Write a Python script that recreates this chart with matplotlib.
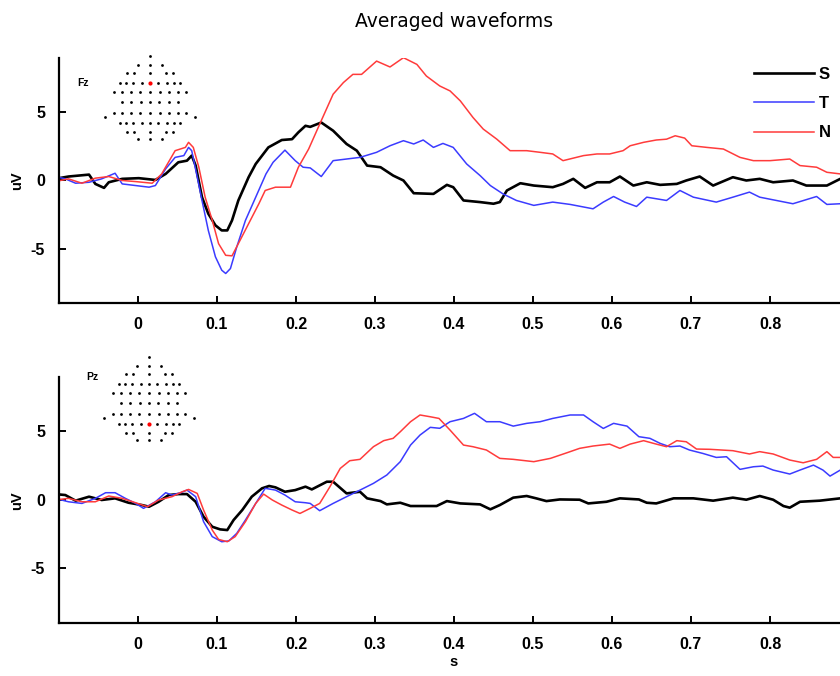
import matplotlib
matplotlib.use("Agg")
import matplotlib.pyplot as plt

plt.rcParams['font.family'] = ['Liberation Sans Narrow', 'Liberation Sans', 'DejaVu Sans']
plt.rcParams['axes.unicode_minus'] = False

# ---- data (time in s, amplitude in uV) ----
fz_s_t = [-0.105, -0.088, -0.062, -0.054, -0.043, -0.037, -0.02, 0.001, 0.022, 0.035, 0.051, 0.062,
          0.068, 0.073, 0.081, 0.089, 0.098, 0.106, 0.113, 0.119, 0.127, 0.14, 0.149, 0.165, 0.182,
          0.195, 0.203, 0.212, 0.218, 0.232, 0.247, 0.264, 0.277, 0.29, 0.307, 0.323, 0.336, 0.349,
          0.374, 0.391, 0.399, 0.412, 0.433, 0.45, 0.458, 0.467, 0.484, 0.501, 0.525, 0.538, 0.551,
          0.566, 0.581, 0.597, 0.61, 0.627, 0.644, 0.661, 0.682, 0.694, 0.711, 0.728, 0.753, 0.77,
          0.787, 0.804, 0.829, 0.846, 0.872, 0.889]
fz_s_v = [0.10, 0.27, 0.41, -0.27, -0.56, -0.15, 0.10, 0.15, 0.02, 0.46, 1.31, 1.43,
          1.80, 1.07, -1.24, -2.45, -3.30, -3.67, -3.67, -2.94, -1.48, 0.22, 1.19, 2.40, 2.94,
          3.00, 3.50, 3.98, 3.90, 4.22, 3.62, 2.65, 2.16, 1.07, 0.95, 0.34, -0.02, -0.95,
          -1.00, -0.34, -0.51, -1.48, -1.60, -1.72, -1.60, -0.75, -0.22, -0.39, -0.51, -0.27, 0.10,
          -0.56, -0.15, -0.15, 0.27, -0.39, -0.15, -0.34, -0.27, -0.02, 0.27, -0.39, 0.22, -0.02,
          0.10, -0.15, -0.02, -0.39, -0.39, 0.10]

fz_t_t = [-0.105, -0.092, -0.079, -0.062, -0.046, -0.029, -0.020, -0.003, 0.014, 0.022, 0.035, 0.047,
          0.058, 0.064, 0.068, 0.075, 0.081, 0.089, 0.098, 0.106, 0.111, 0.117, 0.125, 0.136, 0.149,
          0.162, 0.171, 0.186, 0.199, 0.209, 0.218, 0.232, 0.247, 0.264, 0.281, 0.302, 0.319, 0.336,
          0.349, 0.361, 0.374, 0.386, 0.399, 0.416, 0.433, 0.446, 0.462, 0.479, 0.501, 0.525, 0.547,
          0.576, 0.589, 0.602, 0.616, 0.631, 0.644, 0.669, 0.686, 0.703, 0.732, 0.753, 0.774, 0.787,
          0.808, 0.829, 0.859, 0.872, 0.889]
fz_t_v = [0.27, 0.10, -0.22, -0.15, 0.10, 0.51, -0.27, -0.39, -0.51, -0.39, 0.83, 1.67,
          1.80, 2.40, 2.16, 0.22, -1.48, -3.67, -5.60, -6.58, -6.82, -6.46, -4.88, -2.94, -1.24,
          0.46, 1.31, 2.20, 1.43, 0.95, 0.90, 0.27, 1.43, 1.55, 1.67, 2.04, 2.52, 2.89,
          2.65, 2.94, 2.40, 2.69, 2.40, 1.19, 0.34, -0.39, -1.00, -1.48, -1.84, -1.60, -1.77,
          -2.09, -1.60, -1.19, -1.60, -1.92, -1.24, -1.48, -0.75, -1.24, -1.60, -1.24, -0.87, -1.24,
          -1.48, -1.72, -1.19, -1.77, -1.72]

fz_n_t = [-0.105, -0.088, -0.071, -0.054, -0.037, -0.020, -0.003, 0.018, 0.030, 0.047, 0.060, 0.064,
          0.070, 0.077, 0.085, 0.094, 0.102, 0.111, 0.119, 0.127, 0.140, 0.153, 0.161, 0.174, 0.193,
          0.203, 0.216, 0.230, 0.247, 0.260, 0.272, 0.283, 0.302, 0.319, 0.336, 0.353, 0.365, 0.382,
          0.395, 0.408, 0.424, 0.437, 0.454, 0.471, 0.492, 0.509, 0.525, 0.538, 0.564, 0.581, 0.597,
          0.614, 0.623, 0.640, 0.656, 0.669, 0.680, 0.692, 0.701, 0.720, 0.741, 0.762, 0.779, 0.800,
          0.825, 0.838, 0.859, 0.872, 0.889]
fz_n_v = [-0.10, 0.10, -0.22, 0.15, 0.27, -0.02, -0.10, -0.22, 0.46, 2.16, 2.40, 2.77,
          2.40, 0.95, -1.24, -2.94, -4.64, -5.49, -5.53, -4.64, -3.18, -1.72, -0.75, -0.51, -0.51,
          0.95, 2.28, 4.10, 6.29, 7.14, 7.74, 7.74, 8.71, 8.28, 8.96, 8.47, 7.62, 6.89,
          6.53, 5.80, 4.59, 3.74, 3.01, 2.16, 2.16, 2.04, 1.92, 1.43, 1.80, 1.92, 1.92,
          2.16, 2.52, 2.77, 2.94, 3.00, 3.25, 3.08, 2.52, 2.40, 2.28, 1.67, 1.43, 1.43,
          1.55, 1.07, 0.95, 0.58, 0.46]

pz_s_t = [-0.105, -0.092, -0.079, -0.062, -0.046, -0.029, -0.012, 0.005, 0.014, 0.026, 0.039, 0.051,
          0.062, 0.073, 0.083, 0.094, 0.104, 0.113, 0.121, 0.132, 0.144, 0.157, 0.166, 0.174, 0.186,
          0.199, 0.212, 0.220, 0.239, 0.247, 0.264, 0.281, 0.290, 0.307, 0.315, 0.332, 0.345, 0.378,
          0.391, 0.408, 0.433, 0.446, 0.458, 0.475, 0.492, 0.504, 0.517, 0.534, 0.559, 0.570, 0.593,
          0.610, 0.634, 0.644, 0.656, 0.678, 0.703, 0.728, 0.753, 0.770, 0.787, 0.804, 0.817, 0.825,
          0.838, 0.863, 0.889]
pz_s_v = [0.41, 0.34, -0.07, 0.22, -0.02, 0.10, -0.22, -0.39, -0.51, -0.15, 0.34, 0.41,
          0.41, -0.15, -1.24, -1.97, -2.16, -2.21, -1.48, -0.75, 0.22, 0.83, 1.00, 0.90, 0.58,
          0.70, 0.95, 0.75, 1.31, 1.31, 0.46, 0.58, 0.10, -0.10, -0.34, -0.22, -0.46, -0.46,
          -0.10, -0.27, -0.34, -0.70, -0.39, 0.15, 0.27, 0.10, -0.10, 0.02, 0.00, -0.27, -0.15,
          0.10, 0.02, -0.22, -0.27, 0.10, 0.10, -0.07, 0.15, 0.00, 0.27, 0.00, -0.46, -0.58,
          -0.15, -0.07, 0.10]

pz_t_t = [-0.105, -0.088, -0.071, -0.054, -0.041, -0.029, -0.016, -0.003, 0.007, 0.022, 0.035, 0.043,
          0.054, 0.062, 0.073, 0.083, 0.094, 0.106, 0.115, 0.125, 0.136, 0.149, 0.161, 0.174, 0.186,
          0.199, 0.212, 0.218, 0.230, 0.247, 0.264, 0.281, 0.298, 0.315, 0.332, 0.345, 0.357, 0.370,
          0.382, 0.395, 0.412, 0.426, 0.441, 0.458, 0.475, 0.492, 0.509, 0.525, 0.547, 0.564, 0.576,
          0.589, 0.602, 0.619, 0.634, 0.648, 0.661, 0.673, 0.686, 0.698, 0.715, 0.732, 0.745, 0.762,
          0.779, 0.791, 0.804, 0.825, 0.838, 0.855, 0.867, 0.876, 0.889]
pz_t_v = [0.10, -0.15, -0.27, 0.10, 0.51, 0.51, 0.10, -0.27, -0.63, -0.15, 0.51, 0.34,
          0.51, 0.70, 0.22, -1.60, -2.69, -3.06, -3.00, -2.45, -1.48, -0.27, 0.83, 0.70, 0.34,
          -0.15, -0.22, -0.27, -0.80, -0.27, 0.22, 0.70, 1.19, 1.80, 2.77, 3.98, 4.71, 5.27,
          5.20, 5.68, 5.92, 6.29, 5.68, 5.68, 5.36, 5.56, 5.68, 5.92, 6.17, 6.17, 5.68,
          5.19, 5.56, 5.36, 4.59, 4.47, 4.10, 3.86, 3.91, 3.62, 3.37, 3.08, 3.13, 2.21,
          2.40, 2.45, 2.16, 1.87, 2.16, 2.52, 2.16, 1.72, 2.16]

pz_n_t = [-0.105, -0.088, -0.071, -0.054, -0.037, -0.020, -0.003, 0.012, 0.026, 0.043, 0.056, 0.064,
          0.075, 0.083, 0.094, 0.102, 0.113, 0.123, 0.136, 0.149, 0.159, 0.170, 0.182, 0.195, 0.205,
          0.218, 0.230, 0.243, 0.256, 0.268, 0.281, 0.298, 0.311, 0.323, 0.332, 0.345, 0.357, 0.370,
          0.381, 0.395, 0.412, 0.424, 0.441, 0.458, 0.475, 0.501, 0.522, 0.543, 0.559, 0.576, 0.597,
          0.610, 0.623, 0.640, 0.656, 0.669, 0.682, 0.694, 0.707, 0.724, 0.753, 0.774, 0.787, 0.804,
          0.825, 0.842, 0.859, 0.872, 0.880, 0.889]
pz_n_v = [-0.02, 0.10, -0.15, -0.15, 0.27, 0.10, -0.22, -0.51, -0.02, 0.22, 0.58, 0.75,
          0.46, -0.75, -2.21, -2.89, -3.06, -2.69, -1.60, -0.27, 0.41, -0.02, -0.39, -0.75, -1.00,
          -0.63, -0.27, 0.95, 2.28, 2.84, 2.94, 3.86, 4.30, 4.47, 4.95, 5.68, 6.17, 6.04,
          5.92, 5.07, 3.98, 3.86, 3.62, 3.01, 2.94, 2.77, 3.01, 3.42, 3.74, 3.91, 4.05,
          3.74, 4.05, 4.30, 4.05, 3.86, 4.30, 4.22, 3.69, 3.67, 3.57, 3.33, 3.50, 3.33,
          2.89, 2.69, 2.94, 3.50, 3.08, 3.08]

conditions = ['S', 'T', 'N']
colors = ['black', '#3b3bff', '#ff3b3b']
widths = [1.9, 1.1, 1.1]
xticks = [0, 0.1, 0.2, 0.3, 0.4, 0.5, 0.6, 0.7, 0.8]
xticklabels = ['0', '0.1', '0.2', '0.3', '0.4', '0.5', '0.6', '0.7', '0.8']
yticks = [-5, 0, 5]

# 64-channel montage, rows from front to back: (row depth, lateral positions)
montage_depth = [0, 9, 17.3, 26.7, 35.7, 46.3, 56.7, 67.3, 75.7, 83]
montage_rows = [
    [0],
    [-11.7, 0, 11.7],
    [-22.7, -16, 0, 16, 22.7],
    [-30, -24, -16.7, -8.3, 0, 8.3, 16.7, 24, 30],
    [-36, -27.7, -19.3, -9.7, 0, 9.7, 19.3, 27.7, 36],
    [-28.3, -18.7, -9.3, 0, 9.3, 18.7, 28.3],
    [-36, -27.7, -19.3, -9.7, 0, 9.7, 19.3, 27.7, 36],
    [-30, -24, -16.7, -8.3, 0, 8.3, 16.7, 24, 30],
    [-22.7, -16, 0, 16, 22.7],
    [-11.7, 0, 11.7],
]
montage_side = [-45, 45]   # T7 / T8, slightly behind row 7
montage_side_depth = 61
fz_index = (3, 4)
pz_index = (7, 4)

W, H = 840, 676
fig = plt.figure(figsize=(8.4, 6.76), dpi=100)


def px_rect(x0, y0, x1, y1):
    return [x0 / W, 1 - y1 / H, (x1 - x0) / W, (y1 - y0) / H]


def draw_panel(rect, series, label, label_xy, map_rect, red):
    ax = fig.add_axes(rect)
    for (t, v), name, c, lw in zip(series, conditions, colors, widths):
        ax.plot(t, v, color=c, lw=lw, label=name)
    ax.set_xlim(-0.1, 0.9)
    ax.set_ylim(-9, 8.9)
    ax.set_xticks(xticks)
    ax.set_xticklabels(xticklabels)
    ax.set_yticks(yticks)
    for s in ['top', 'right']:
        ax.spines[s].set_visible(False)
    for s in ['left', 'bottom']:
        ax.spines[s].set_linewidth(1.6)
    ax.tick_params(direction='in', length=5, width=1.4, labelsize=11.5, pad=10)
    for lab in ax.get_xticklabels() + ax.get_yticklabels():
        lab.set_fontweight('bold')
    ax.set_ylabel('uV', fontsize=10.5, fontweight='bold', labelpad=5)
    fig.text(label_xy[0] / W, 1 - label_xy[1] / H, label, fontsize=7.5,
             fontweight='bold', ha='left', va='center')

    m = fig.add_axes(map_rect)
    m.set_xlim(-50, 50)
    m.set_ylim(89, -6)
    m.axis('off')
    for d, xs in zip(montage_depth, montage_rows):
        m.plot(xs, [d] * len(xs), 'o', color='black', ms=2.0, mew=0)
    m.plot(montage_side, [montage_side_depth] * 2, 'o', color='black', ms=2.0, mew=0)
    m.plot(montage_rows[red[0]][red[1]], montage_depth[red[0]], 'o',
           color='red', ms=3.0, mew=0)
    return ax


top = draw_panel(px_rect(59, 58.5, 849, 303.3),
                 [(fz_s_t, fz_s_v), (fz_t_t, fz_t_v), (fz_n_t, fz_n_v)],
                 'Fz', (77, 83.5), px_rect(100, 50, 200, 145), fz_index)
bottom = draw_panel(px_rect(59, 377.5, 849, 623.3),
                    [(pz_s_t, pz_s_v), (pz_t_t, pz_t_v), (pz_n_t, pz_n_v)],
                    'Pz', (86, 377), px_rect(99, 351, 199, 446), pz_index)

top.set_title('Averaged waveforms', family='DejaVu Sans', fontsize=13.5, pad=23)
bottom.set_xlabel('s', fontsize=10.5, fontweight='bold', labelpad=2)

leg = top.legend(loc='upper right', bbox_to_anchor=(846 / W, 1 - 52 / H),
                 bbox_transform=fig.transFigure, frameon=False, handlelength=3.6,
                 handletextpad=0.3, labelspacing=0.85, prop={'weight': 'bold', 'size': 12})

fig.savefig('out.png', dpi=100)
